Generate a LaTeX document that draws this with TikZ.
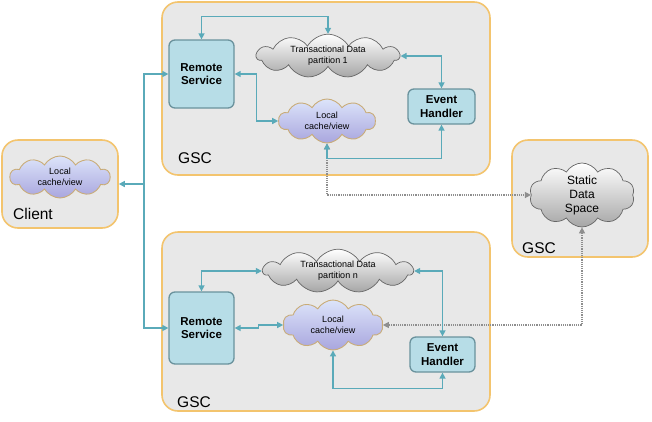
\documentclass[tikz,border=0pt]{standalone}
\usepackage{fontspec}
\setmainfont{Liberation Sans}
\usepackage{tikz}
\usetikzlibrary{arrows.meta, calc, shapes.symbols, positioning}
\usepackage{xcolor}
\definecolor{gscfill}{HTML}{E8E8E8}
\definecolor{gscline}{HTML}{F3C46E}
\definecolor{svcfill}{HTML}{B7DDE7}
\definecolor{svcline}{HTML}{6A929D}
\definecolor{linkc}{HTML}{5AAAB9}
\definecolor{dotc}{HTML}{8E8E8E}
\definecolor{cachetop}{HTML}{DCE4FA}
\definecolor{cachebot}{HTML}{A9A6DE}
\definecolor{cacheline}{HTML}{C9AC78}
\tikzset{
  gscbox/.style  ={draw=gscline, fill=gscfill, rounded corners=16pt, line width=1.6pt, inner sep=0pt},
  svc/.style     ={draw=svcline, fill=svcfill, rounded corners=6pt, line width=1.3pt, inner sep=0pt,
                   align=center, font=\bfseries\fontsize{11.5}{13.5}\selectfont},
  datacloud/.style ={cloud, cloud ignores aspect, cloud puffs=11, cloud puff arc=120, draw=black!60, line width=0.7pt,
                   top color=white, bottom color=black!35, inner sep=0pt, align=center,
                   font=\fontsize{9}{11}\selectfont},
  cachecloud/.style={cloud, cloud ignores aspect, cloud puffs=10, cloud puff arc=120, draw=cacheline, line width=0.9pt,
                   top color=cachetop, bottom color=cachebot, inner sep=0pt, align=center,
                   font=\fontsize{9}{11}\selectfont},
  gsclbl/.style  ={font=\fontsize{15.5}{17}\selectfont, inner sep=0pt},
  link/.style    ={{Triangle[length=6pt,width=6pt]}-{Triangle[length=6pt,width=6pt]}, line width=1.4pt, linkc},
  tolink/.style  ={-{Triangle[length=6pt,width=6pt]}, line width=1.4pt, linkc},
  dots/.style    ={{Triangle[length=6pt,width=6pt]}-{Triangle[length=6pt,width=6pt]}, line width=1.2pt, dotc, densely dotted},
}

\begin{document}
\begin{tikzpicture}[x=1pt, y=-1pt]
  \useasboundingbox (0,0) rectangle (652,421);

  % containers
  \node[gscbox, minimum width=328pt, minimum height=173pt] (gsc1) at (326,88.5) {};
  \node[gscbox, minimum width=328pt, minimum height=179pt] (gsc2) at (326,321.5) {};
  \node[gscbox, minimum width=136pt, minimum height=117pt] (gsc3) at (580,198.5) {};
  \node[gscbox, minimum width=116pt, minimum height=88pt]  (cl)   at (60,184) {};
  \node[gsclbl] at (195,158.5) {GSC};
  \node[gsclbl] at (194,402)   {GSC};
  \node[gsclbl] at (539,248)   {GSC};
  \node[gsclbl] at (33,214)    {Client};

  % upper GSC
  \node[svc, minimum width=65pt, minimum height=68pt] (rs1) at (201.5,74) {Remote\\Service};
  \node[svc, minimum width=67pt, minimum height=35pt] (eh1) at (441.5,106.5) {Event\\Handler};
  \node[datacloud, minimum width=143pt, minimum height=39pt] (td1) at (328,56) {Transactional Data\\partition 1};
  \node[cachecloud, minimum width=97pt, minimum height=44pt] (lc1) at (327,121) {Local\\cache/view};

  % lower GSC
  \node[svc, minimum width=65pt, minimum height=72pt] (rs2) at (201.5,328) {Remote\\Service};
  \node[svc, minimum width=65pt, minimum height=35pt] (eh2) at (442.5,354.5) {Event\\Handler};
  \node[datacloud, minimum width=150pt, minimum height=39pt] (td2) at (338,271) {Transactional Data\\partition n};
  \node[cachecloud, minimum width=100pt, minimum height=50pt] (lc2) at (333,325) {Local\\cache/view};

  % static space and client cache
  \node[datacloud, cloud puffs=10, minimum width=105pt, minimum height=64pt,
        font=\fontsize{12}{14}\selectfont] (sds) at (582,195) {Static\\Data\\Space};
  \node[cachecloud, minimum width=100pt, minimum height=42pt] (cc) at (60,177) {Local\\cache/view};

  % dotted feeds from static space
  \draw[dots] (lc1.south) |- (sds.west);
  \draw[dots] (sds.south) |- (lc2.east);

  % upper links
  \draw[link] (rs1.north) -- ++(0,-23) -| (td1.north);
  \draw[link] (td1.east) -| (eh1.north);
  \draw[link] (rs1.east) -- ++(22,0) |- (lc1.west);
  \draw[link] (eh1.south) -- ++(0,34) -| (lc1.south);

  % lower links
  \draw[link] (rs2.north) |- (td2.west);
  \draw[link] (td2.east) -| (eh2.north);
  \draw[link] (rs2.east) -- ++(24,0) |- (lc2.west);
  \draw[link] (eh2.south) -- ++(0,16) -| (lc2.south);

  % client bus
  \coordinate (bus) at ($(cl.east)+(25,0)$);
  \draw[tolink] (bus) -- (cl.east);
  \draw[tolink] (bus) |- (rs1.west);
  \draw[tolink] (bus) |- (rs2.west);
\end{tikzpicture}
\end{document}
